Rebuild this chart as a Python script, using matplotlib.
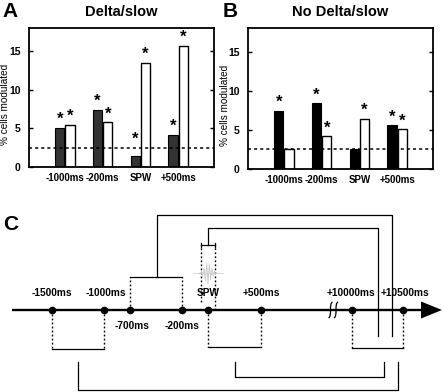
import matplotlib
matplotlib.use("Agg")
import matplotlib.pyplot as plt
import numpy as np
from matplotlib.path import Path
from matplotlib.patches import PathPatch

plt.rcParams['font.family'] = ['Liberation Sans', 'DejaVu Sans']
plt.rcParams['font.weight'] = 'bold'

# bar data (% cells modulated)
groups = ["-1000ms", "-200ms", "SPW", "+500ms"]
a_dark = [5.1, 7.4, 1.4, 4.2]
a_light = [5.5, 5.8, 13.5, 15.7]
a_dark_sig = [True, True, True, True]
a_light_sig = [True, True, True, True]
b_dark = [7.4, 8.4, 2.5, 5.6]
b_light = [2.5, 4.2, 6.4, 5.1]
b_dark_sig = [True, True, False, True]
b_light_sig = [False, True, True, True]
chance = 2.5

# timeline schematic
events = ["-1500ms", "-1000ms", "-700ms", "-200ms", "SPW", "+500ms", "+10000ms", "+10500ms"]
event_x = [52, 104, 130, 182, 208, 261, 352, 403]
label_below = [False, False, True, True, False, False, False, False]
label_dx = [0, 2, 2, 0, 0, 0, -1, 2]

fig = plt.figure(figsize=(4.44, 3.92), dpi=100)


def bar_panel(rect, dark, light, dsig, lsig, dark_color, title, letter, lx, ylx):
    ax = fig.add_axes(rect)
    x = np.arange(1, len(groups) + 1)
    w = 0.25
    ax.bar(x - 0.135, dark, w, color=dark_color, edgecolor='black', lw=0.8, zorder=2)
    ax.bar(x + 0.135, light, w, color='white', edgecolor='black', lw=1.0, zorder=2)
    ax.axhline(chance, color='black', ls=(0, (2, 2)), lw=1.1, zorder=3)
    for xs, vals, sig in ((x - 0.135, dark, dsig), (x + 0.135, light, lsig)):
        for xi, v, s in zip(xs, vals, sig):
            if s:
                ax.text(xi, max(v, chance) + 0.1, "*", ha='center', va='bottom', fontsize=12)
    ax.set_xlim(0.05, 4.95)
    ax.set_ylim(0, 18)
    ax.set_yticks([0, 5, 10, 15])
    ax.set_xticks(x)
    ax.set_xticklabels(groups)
    ax.tick_params(axis='y', direction='in', length=3, right=True, labelsize=7.5, pad=6, width=1)
    ax.tick_params(axis='x', length=0, labelsize=7, pad=4)
    for s in ax.spines.values():
        s.set_linewidth(1.3)
    ax.set_title(title, fontsize=10.5, fontweight='bold', pad=9)
    ax.set_ylabel("% cells modulated", fontsize=7.2)
    ax.yaxis.set_label_coords(ylx, 0.45)
    fig.text(lx, 1 - 2 / 392, letter, fontsize=15, fontweight='bold', va='top', ha='left')
    return ax


bar_panel([29 / 444, 1 - 167 / 392, 185 / 444, 139 / 392], a_dark, a_light,
          a_dark_sig, a_light_sig, '#333333', "Delta/slow", "A", 2 / 444, -0.102)
bar_panel([248 / 444, 1 - 169 / 392, 185 / 444, 141 / 392], b_dark, b_light,
          b_dark_sig, b_light_sig, 'black', "No Delta/slow", "B", 223 / 444, -0.1)

# panel C drawn in figure pixel coordinates
ax = fig.add_axes([0, 0, 1, 1], zorder=-1)
ax.set_xlim(0, 444)
ax.set_ylim(392, 0)
ax.axis('off')
fig.text(3 / 444, 1 - 215 / 392, "C", fontsize=15, fontweight='bold', va='top', ha='left')

y0 = 310
ax.plot([12, 424], [y0, y0], color='black', lw=1.7, solid_capstyle='butt')
ax.fill([421, 421, 442], [301.5, 318.5, y0], color='black', lw=0)
ax.plot(event_x, [y0] * len(event_x), 'o', color='black', ms=4.5)
for ex, lab, below, dx in zip(event_x, events, label_below, label_dx):
    ax.text(ex + dx, 326 if below else 293, lab, ha='center', va='center', fontsize=7.3)

dot = dict(color='black', ls=(0, (1.3, 1.6)), lw=1.0)
sol = dict(color='black', lw=0.9)


def window(i, j, yb):
    xa, xb = event_x[i], event_x[j]
    ax.plot([xa, xa], [y0, yb], **dot)
    ax.plot([xb, xb], [y0, yb], **dot)
    ax.plot([xa, xb], [yb, yb], **sol)


window(0, 1, 349)
window(2, 3, 277)
window(4, 5, 347)
window(6, 7, 348)

# SPW window
sx0, sx1 = 200.7, 215
ax.plot([sx0, sx0], [y0 - 8, 245], **dot)
ax.plot([sx1, sx1], [y0, 245], **dot)
ax.plot([sx0, sx1], [245, 245], **sol)
ax.plot([sx0, sx0], [243, 247], **sol)
ax.plot([sx1, sx1], [243, 247], **sol)
ripple = [0, 1, -2, 3, -5, 8, -10, 11, -9, 7, -5, 3, -2, 1, 0]
rx = np.linspace(199, 217, len(ripple))
ax.plot(rx, 273 + np.array(ripple), color='#c8c8c8', lw=0.6)
ax.plot([193, 223], [273, 273], color='#d0d0d0', lw=0.6)

# connectors
ax.plot([156.7, 156.7, 392, 392], [277, 215, 215, 336], **sol)
ax.plot([208.3, 208.3, 377.7, 377.7], [245, 228.3, 228.3, 336], **sol)
ax.plot([78.3, 78.3, 398, 398], [362, 390, 390, 362], **sol)
ax.plot([235.3, 235.3, 384.3, 384.3], [362, 376.7, 376.7, 362], **sol)

# axis break marks
for bx in (330.5, 336):
    verts = [(bx + 2, 302), (bx - 2, 304), (bx + 2, 316), (bx - 2, 318)]
    codes = [Path.MOVETO, Path.CURVE4, Path.CURVE4, Path.CURVE4]
    ax.add_patch(PathPatch(Path(verts, codes), fill=False, lw=0.9, color='black'))

fig.savefig("out.png", dpi=100)
